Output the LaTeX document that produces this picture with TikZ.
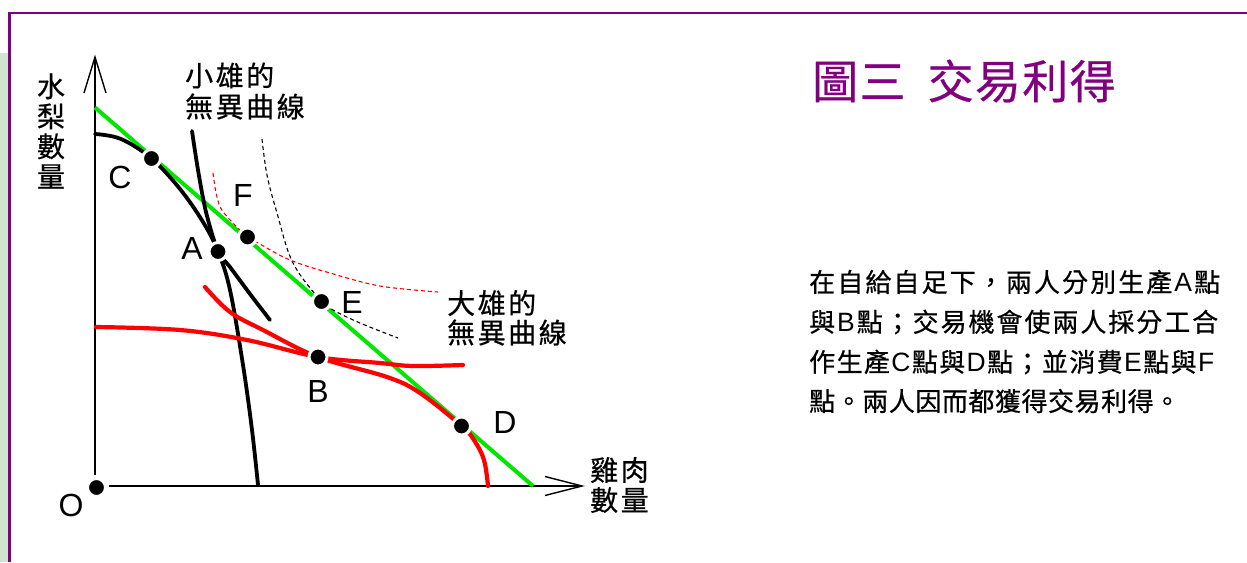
\documentclass[tikz,border=0pt]{standalone}
\usepackage{fontspec}
\setmainfont{Liberation Sans}
\newfontfamily\cjkP[FakeBold=0.6]{Noto Sans CJK TC}
\newfontfamily\cjkL[LetterSpace=9,FakeBold=0.6]{Noto Sans CJK TC}
\newfontfamily\cjkT[LetterSpace=3,FakeBold=0.5]{Noto Sans CJK TC}
\newfontfamily\latP{Liberation Sans}
\newcommand\LA[1]{{\latP\fontsize{26.5}{30}\selectfont #1}}
\makeatletter
\newcommand\jline[2]{\makebox[#1][s]{\def\js{}\@tfor\jc:=#2\do{\js\jc\def\js{\hfil}}}}
\makeatother
\usetikzlibrary{calc}
\definecolor{framec}{HTML}{800080}
\definecolor{stripc}{HTML}{CFE5CF}
\definecolor{budget}{HTML}{00E600}
\definecolor{redc}{HTML}{FF0000}
\tikzset{
  dot/.style={circle, fill=black, draw=white, line width=3pt, minimum size=18pt, inner sep=0pt},
  ptlabel/.style={font=\fontsize{32}{36}\selectfont, inner sep=0pt},
  cjklabel/.style={font=\cjkL\fontsize{28}{30}\selectfont, inner sep=0pt, anchor=west},
  axis/.style={line width=1.4pt, black},
  thick curve/.style={line width=3.8pt, line cap=round},
  dash curve/.style={line width=1.1pt, dash pattern=on 4pt off 3pt},
  para/.style={font=\cjkP\fontsize{26}{30}\selectfont, inner sep=0pt, anchor=west},
}
\begin{document}
\begin{tikzpicture}[x=1pt,y=-1pt]
\useasboundingbox (0,0) rectangle (1247,562);
% frame
\fill[stripc] (0,53) rectangle (8.5,562);
\draw[framec, line width=2.2pt] (9.5,562) -- (9.5,13) -- (1247,13);

% named points
\coordinate (Opos) at (96.5,487.5);
\coordinate (Cpos) at (151.5,158.5);
\coordinate (Fpos) at (247.5,237);
\coordinate (Apos) at (218,251.5);
\coordinate (Epos) at (321.5,301.5);
\coordinate (Bpos) at (318,357);
\coordinate (Dpos) at (461.5,426);

% axes
\coordinate (yb) at (95,475);
\coordinate (yt) at (95,57);
\coordinate (xb) at (109,486);
\coordinate (xt) at (582,486);
\draw[axis] (yb) -- (yt);
\draw[axis] (84,93) -- (yt) -- (106,93);
\draw[axis] (xb) -- (xt);
\draw[axis] (545,476.5) -- (xt) -- (545,495.5);

% budget (green) line
\coordinate (gs) at (95,107.5);
\coordinate (ge) at (533,486);
\draw[budget, line width=4pt] (gs) -- (ge);

% Xiaoxiong PPF (black, concave)
\draw[thick curve] plot[smooth, tension=0.6] coordinates {(95,134) (121,139) (Cpos) (180,189) (203,222) (Apos) (230,290) (243,365) (252,430) (258,485)};
% Xiaoxiong indifference curve (black)
\draw[thick curve] plot[smooth, tension=0.5] coordinates {(192,131) (198,170) (206,212) (Apos) (230,267) (250,294) (270,320)};
% Xiaoxiong higher IC (black dashed) through E
\draw[dash curve] plot[smooth, tension=0.6] coordinates {(262,139) (267,175) (277,213) (293,263) (Epos) (333,310) (360,323) (398,338)};
% Daxiong higher IC (red dashed) through F
\draw[dash curve, redc] plot[smooth, tension=0.6] coordinates {(213,173) (217,197) (224,213) (Fpos) (258,243) (290,260) (330,273) (380,286) (438,292)};
% Daxiong PPF (red, concave)
\draw[thick curve, redc, line width=4.2pt] plot[smooth, tension=0.6] coordinates {(205,287) (230,312) (263,330) (Bpos) (387,377) (420,393) (Dpos) (474,440) (484,460) (488,486)};
% Daxiong IC (red)
\draw[thick curve, redc, line width=4.2pt] plot[smooth, tension=0.6] coordinates {(96,327) (180,330) (247,340) (Bpos) (380,363) (413,366) (463,365)};

% dots
\node[dot] (O) at (Opos) {};
\node[dot] (C) at (Cpos) {};
\node[dot] (F) at (Fpos) {};
\node[dot] (A) at (Apos) {};
\node[dot] (E) at (Epos) {};
\node[dot] (B) at (Bpos) {};
\node[dot] (D) at (Dpos) {};

% point labels
\node[ptlabel] (lO) at (71,505) {O};
\node[ptlabel] (lC) at (120,177) {C};
\node[ptlabel] (lF) at (243,195) {F};
\node[ptlabel] (lA) at (192,248) {A};
\node[ptlabel] (lE) at (352,302) {E};
\node[ptlabel] (lB) at (318,391) {B};
\node[ptlabel] (lD) at (505,422) {D};

% curve labels
\node[cjklabel] (x1) at (185,75.5) {小雄的};
\node[cjklabel] (x2) at (185,106.5) {無異曲線};
\node[cjklabel] (d1) at (447,303) {大雄的};
\node[cjklabel] (d2) at (447,332.5) {無異曲線};

% axis labels
\node[font=\cjkP\fontsize{28}{30}\selectfont, inner sep=0pt, align=center] (ylab) at (51,131) {水\\梨\\數\\量};
\node[cjklabel] (xl1) at (590,470) {雞肉};
\node[cjklabel] (xl2) at (590,500) {數量};

% title
\node[font=\cjkT\fontsize{46}{50}\selectfont, inner sep=0pt, anchor=west, text=framec] (title) at (812,81) {圖三\kern22pt 交易利得};

% paragraph
\node[para] (p1) at (809,282) {\jline{411pt}{在自給自足下，兩人分別生產{\LA{A}}點}};
\node[para] (p2) at (809,322) {\jline{409pt}{與{\LA{B}}點；交易機會使兩人採分工合}};
\node[para] (p3) at (809,362) {\jline{405pt}{作生產{\LA{C}}點與{\LA{D}}點；並消費{\LA{E}}點與{\LA{F}}}};
\node[para] (p4) at (809,401) {\jline{371pt}{點。兩人因而都獲得交易利得。}};
\end{tikzpicture}
\end{document}
